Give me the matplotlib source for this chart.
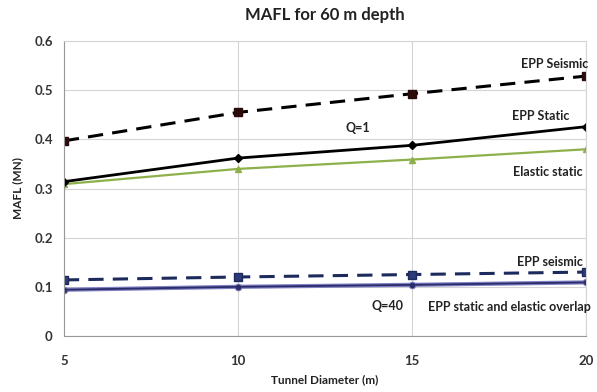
import matplotlib.pyplot as plt

# tunnel diameters (m)
diam = [5, 10, 15, 20]

# Q=1 series (MN)
q1_epp_seismic = [0.397, 0.455, 0.493, 0.529]
q1_epp_static = [0.314, 0.362, 0.388, 0.426]
q1_elastic = [0.309, 0.340, 0.359, 0.380]

# Q=40 series (MN)
q40_epp_seismic = [0.114, 0.120, 0.125, 0.130]
q40_elastic = [0.094, 0.100, 0.104, 0.109]
q40_epp_static = [0.094, 0.100, 0.104, 0.109]

plt.rcParams['font.family'] = ['Lato', 'DejaVu Sans']

fig = plt.figure(figsize=(5.97, 3.92), dpi=100)
ax = fig.add_axes([0.107, 0.143, 0.875, 0.752])

ax.plot(diam, q1_epp_seismic, color='black', lw=2.2, ls=(0, (5, 3)),
        marker='s', ms=6, mfc='#2a0a0a', mec='#2a0a0a')
ax.plot(diam, q1_elastic, color='#8db04a', lw=1.6, marker='^', ms=5)
ax.plot(diam, q1_epp_static, color='black', lw=2, marker='D', ms=4.5)

ax.plot(diam, q40_epp_seismic, color='#1c2a5c', lw=2.2, ls=(0, (5, 3)),
        marker='s', ms=6, mfc='#2c3a7a', mec='#1c2a5c')
ax.plot(diam, q40_elastic, color='#7f7fc4', lw=3, marker='o', ms=4.5)
ax.plot(diam, q40_epp_static, color='#2b2d6a', lw=1.3, marker='o', ms=3)

ax.set_xlim(5, 20)
ax.set_ylim(0, 0.6)
ax.set_xticks(diam)
ax.set_yticks([0, 0.1, 0.2, 0.3, 0.4, 0.5, 0.6])
ax.set_yticklabels(['0', '0.1', '0.2', '0.3', '0.4', '0.5', '0.6'])
ax.grid(True, color='#d4d4d4', lw=0.8)
ax.set_axisbelow(True)
for s in ax.spines.values():
    s.set_color('#d4d4d4')
ax.spines['left'].set_color('#999999')
ax.spines['bottom'].set_color('#999999')
ax.tick_params(length=0, labelsize=9.5, colors='#333333', pad=8)
for lab in ax.get_xticklabels() + ax.get_yticklabels():
    lab.set_fontweight('bold')
ax.tick_params(axis='x', pad=14)

ax.set_title('MAFL for 60 m depth', fontsize=12, fontweight='bold', color='#222222', pad=15)
ax.set_xlabel('Tunnel Diameter (m)', fontsize=8.5, fontweight='bold', color='#222222', labelpad=5)
ax.set_ylabel('MAFL (MN)', fontsize=8.5, fontweight='bold', color='#222222', labelpad=8)

txt = dict(fontsize=9, fontweight='bold', color='#222222', ha='center', va='center')
ax.text(19.1, 0.553, 'EPP Seismic', **txt)
ax.text(18.7, 0.447, 'EPP Static', **txt)
ax.text(13.45, 0.423, 'Q=1', **txt)
ax.text(18.9, 0.334, 'Elastic static', **txt)
ax.text(18.95, 0.150, 'EPP seismic', **txt)
ax.text(14.3, 0.061, 'Q=40', **txt)
ax.text(17.8, 0.059, 'EPP static and elastic overlap', **txt)

fig.savefig('out.png', dpi=100)
